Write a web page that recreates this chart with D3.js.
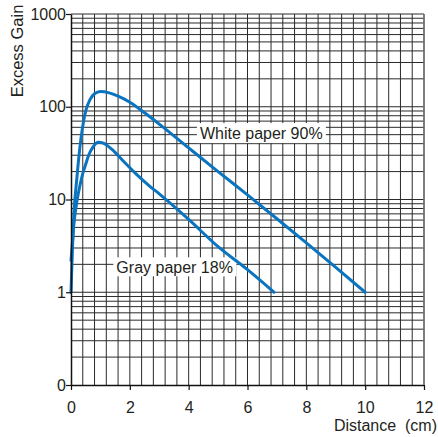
<!DOCTYPE html>
<html>
<head>
<meta charset="utf-8">
<script src="https://cdn.jsdelivr.net/npm/d3@7"></script>
<style>
  body { margin: 0; background: #fff; }
  text { font-family: "Liberation Sans", Arial, sans-serif; fill: #231f20; }
</style>
</head>
<body>
<div id="chart"></div>
<script>
// data
var whiteDist = [0, 0.05, 0.1, 0.2, 0.3, 0.4, 0.5, 0.65, 0.8, 1.0, 1.3, 1.6, 2, 2.5, 3, 4, 5, 6, 7, 8, 9, 10];
var whiteGain = [1, 3, 7, 17, 36, 62, 90, 120, 138, 146, 141, 130, 112, 86, 65, 36, 20, 11.2, 6.2, 3.4, 1.85, 1];

var grayDist = [0, 0.05, 0.1, 0.2, 0.3, 0.4, 0.5, 0.6, 0.75, 0.93, 1.1, 1.4, 1.8, 2.2, 2.69, 3, 4, 5, 6, 6.9];
var grayGain = [2.2, 3.5, 5.5, 9.5, 14, 19, 24, 30, 37, 41.5, 40.5, 34.5, 25.5, 19, 13.8, 11.5, 6.1, 3.1, 1.75, 1];

var yTicks = [0.1, 1, 10, 100, 1000];
var yTickLabels = ["0", "1", "10", "100", "1000"];
var xTicks = [0, 2, 4, 6, 8, 10, 12];

var svgWidth = 438;
var svgHeight = 437;
var margin = { top: 14, right: 14, bottom: 52, left: 71 };
var width = svgWidth - margin.left - margin.right;
var height = svgHeight - margin.top - margin.bottom;

var svg = d3.select("#chart").append("svg")
  .attr("width", svgWidth)
  .attr("height", svgHeight);

var chartGroup = svg.append("g")
  .attr("transform", `translate(${margin.left}, ${margin.top})`);

var xScale = d3.scaleLinear().domain([0, 12]).range([0, width]);
var yScale = d3.scaleLog().domain([0.1, 1000]).range([height, 0]);

// grid: vertical every 0.4 cm, horizontal at log steps
var vGrid = d3.range(0.4, 12.01, 0.4);
var hGrid = [];
[0.1, 1, 10, 100].forEach(function(base) {
  for (var k = 2; k <= 9; k++) hGrid.push(base * k);
});
hGrid = hGrid.concat([1, 10, 100, 1000]);

chartGroup.append("g").selectAll("line")
  .data(vGrid).enter().append("line")
  .attr("x1", d => xScale(d)).attr("x2", d => xScale(d))
  .attr("y1", 0).attr("y2", height)
  .attr("stroke", "#2a2a2a").attr("stroke-width", 1);

chartGroup.append("g").selectAll("line")
  .data(hGrid).enter().append("line")
  .attr("x1", 0).attr("x2", width)
  .attr("y1", d => yScale(d)).attr("y2", d => yScale(d))
  .attr("stroke", "#2a2a2a").attr("stroke-width", 1);

// label boxes
function addLabel(x, y, w, h, txt) {
  chartGroup.append("rect")
    .attr("x", xScale(x)).attr("y", yScale(y) - h / 2)
    .attr("width", w).attr("height", h)
    .attr("fill", "#fff");
  chartGroup.append("text")
    .attr("x", xScale(x) + 3).attr("y", yScale(y))
    .attr("dy", "0.36em")
    .style("font-size", "16px")
    .text(txt);
}
addLabel(4.28, 52, 129, 20, "White paper 90%");
addLabel(1.44, 1.88, 123, 19, "Gray paper 18%");

// curves
var line = d3.line()
  .x(d => xScale(d[0]))
  .y(d => yScale(d[1]))
  .curve(d3.curveMonotoneX);

[[whiteDist, whiteGain], [grayDist, grayGain]].forEach(function(s) {
  chartGroup.append("path")
    .datum(d3.zip(s[0], s[1]))
    .attr("d", line)
    .attr("fill", "none")
    .attr("stroke", "#0a74c1")
    .attr("stroke-width", 3)
    .attr("stroke-linecap", "round");
});

// axes
var leftAxis = d3.axisLeft(yScale)
  .tickValues(yTicks)
  .tickFormat((d, i) => yTickLabels[i])
  .tickSize(5).tickSizeOuter(0);
var bottomAxis = d3.axisBottom(xScale)
  .tickValues(xTicks)
  .tickFormat(d3.format("d"))
  .tickSize(5).tickSizeOuter(0);

var yAxis = chartGroup.append("g").call(leftAxis);
var xAxis = chartGroup.append("g")
  .attr("transform", `translate(0, ${height})`)
  .call(bottomAxis);

[yAxis, xAxis].forEach(function(ax) {
  ax.select(".domain").attr("stroke", "#111").attr("stroke-width", 1.5);
  ax.selectAll(".tick line").attr("stroke", "#111").attr("stroke-width", 1.2);
  ax.selectAll("text")
    .style("font-size", "16px")
    .style("font-family", "'Liberation Sans', Arial, sans-serif")
    .attr("fill", "#231f20");
});
yAxis.selectAll("text").attr("x", -5);
xAxis.selectAll("text").attr("y", 17);

// right border
chartGroup.append("line")
  .attr("x1", width).attr("x2", width)
  .attr("y1", 0).attr("y2", height)
  .attr("stroke", "#777").attr("stroke-width", 1.5);

// axis titles
svg.append("text")
  .attr("transform", "translate(23, 51) rotate(-90)")
  .attr("text-anchor", "middle")
  .style("font-size", "16.5px")
  .text("Excess Gain");

svg.append("text")
  .attr("x", 437).attr("y", 431)
  .attr("text-anchor", "end")
  .style("font-size", "16px")
  .text("Distance\u00a0\u00a0(cm)");
</script>
</body>
</html>
